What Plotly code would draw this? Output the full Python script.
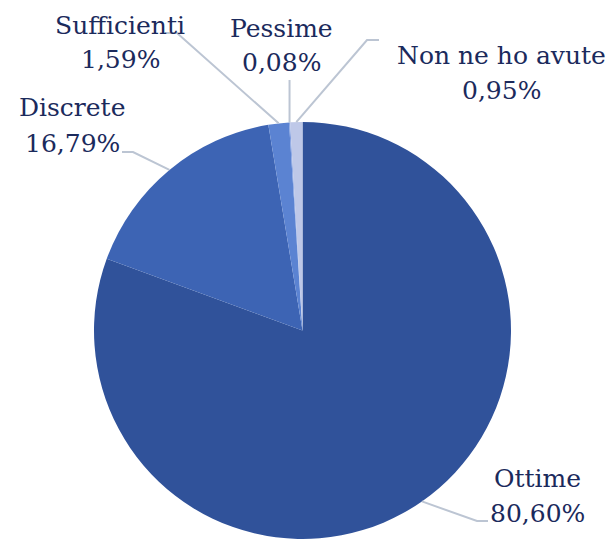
import math
import plotly.graph_objects as go

labels = ["Ottime", "Discrete", "Sufficienti", "Pessime", "Non ne ho avute"]
values = [80.60, 16.79, 1.59, 0.08, 0.95]
colors = ["#30529A", "#3D64B4", "#5B83D2", "#7C9BE0", "#BEC8E8"]

W, H = 613, 539
CX, CY, R = 302.5, 330.5, 208.5

# label line centers (pixels): x, y of name line, y of percent line
label_pos = {
    "Ottime": (537, 479, 513),
    "Discrete": (72, 108, 143),
    "Sufficienti": (120, 25, 59),
    "Pessime": (281, 28, 62),
    "Non ne ho avute": (501, 55, 90),
}
leader_pts = {
    "Ottime": [(477, 521), (488, 521)],
    "Discrete": [(133, 152), (122, 152)],
    "Sufficienti": [(177, 33), (165, 33)],
    "Pessime": [(None, 80)],
    "Non ne ho avute": [(367, 40), (379, 40)],
}
FONT = "DejaVu Serif"

def px(x):
    return x / W

def py(y):
    return 1 - y / H

fig = go.Figure(go.Pie(
    labels=labels, values=values, sort=False, direction="clockwise", rotation=0,
    marker=dict(colors=colors, line=dict(width=0)),
    textinfo="none", hoverinfo="label+percent", showlegend=False,
    domain=dict(x=[(CX - R) / W, (CX + R) / W], y=[py(CY + R), py(CY - R)]),
))

total = sum(values)
cum = 0.0
shapes = []
annotations = []
for lab, v in zip(labels, values):
    mid = (cum + v / 2) / total * 2 * math.pi
    cum += v
    ex = CX + R * math.sin(mid)
    ey = CY - R * math.cos(mid)
    pts = [(ex, ey)] + [((ex if x is None else x), y) for x, y in leader_pts[lab]]
    path = "M " + " L ".join(f"{px(x):.5f},{py(y):.5f}" for x, y in pts)
    shapes.append(dict(type="path", path=path, xref="paper", yref="paper",
                       line=dict(color="#BCC5D3", width=2)))
    lx, ly1, ly2 = label_pos[lab]
    pct = f"{v:.2f}%".replace(".", ",")
    for t, yy in ((lab, ly1), (pct, ly2)):
        annotations.append(dict(x=px(lx), y=py(yy), xref="paper", yref="paper",
                                text=t, showarrow=False, xanchor="center", yanchor="middle",
                                font=dict(family=FONT, size=25, color="#1B2A5C")))

fig.update_layout(width=W, height=H, margin=dict(l=0, r=0, t=0, b=0),
                  paper_bgcolor="white", plot_bgcolor="white",
                  shapes=shapes, annotations=annotations)
fig.write_html("out.html", config={"displayModeBar": False},
               post_script="document.body.style.margin='0px';document.body.style.overflow='hidden';")
